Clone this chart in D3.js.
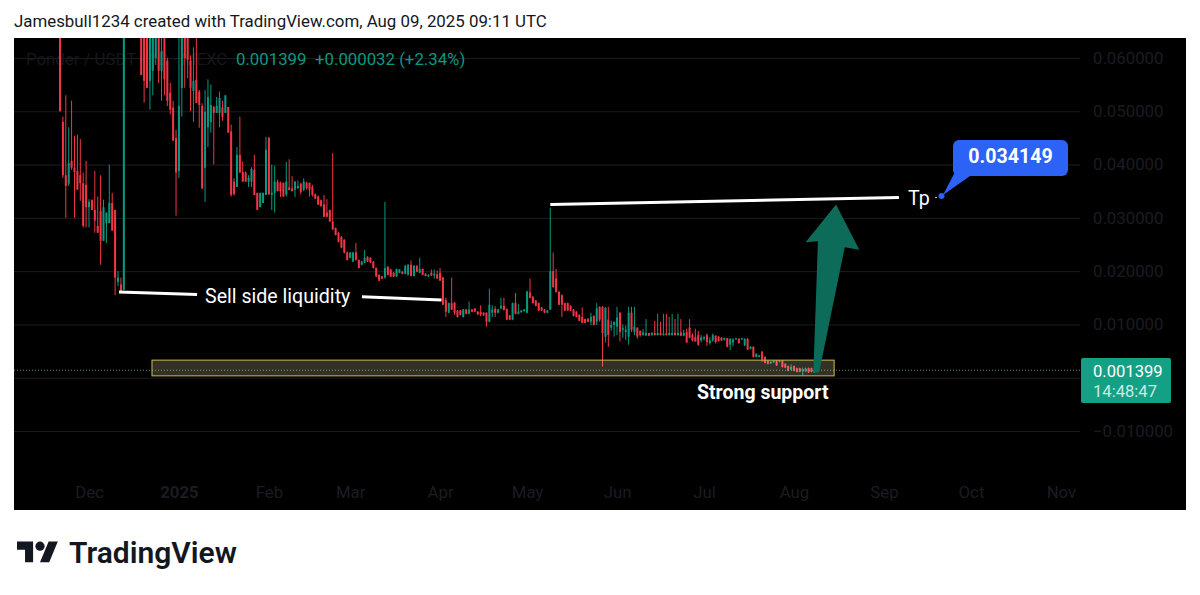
<!DOCTYPE html>
<html><head><meta charset="utf-8">
<script src="https://cdnjs.cloudflare.com/ajax/libs/d3/7.8.5/d3.min.js"></script>
<style>html,body{margin:0;padding:0;background:#fff}svg{display:block}text{font-family:Roboto,sans-serif}</style>
</head><body><svg id="c" width="1200" height="595"></svg>
<script>
// Daily candles in thousandths of USDT, first candle 2024-11-21
const firstDay = "2024-11-21";
const opens = [80,48,38,36.4,40.7,39.4,38.8,38,36.5,36.2,
32,33.4,31.5,28.5,31.3,25.7,29,29,32.8,31.5,
18,17.5,16.5,75,80,78,84,76,72,70,
68,55.7,57.6,60,68,57.6,66,59.5,53.5,50.7,
45,38.8,54.4,66,66,59.5,53.8,55.9,53.7,51,
39.4,47,48,50.8,49.7,49.7,50.7,49.7,50.8,46.2,
36.8,35.8,41.8,38.6,38.5,36.8,36.8,39,34.7,32,
32.8,34.3,45,34.3,34.7,36.8,36.6,36.6,34.4,35.7,
35.5,35.3,35.6,36.4,35.3,36.6,36.6,35.8,34.4,34,
33.3,32.5,31,31.5,29.3,28.1,27.2,26.4,25.9,23.5,
22.5,21.8,23.5,22.1,21.2,21.6,22.7,22.5,21.8,20.6,
19.3,19,18.8,20.8,20.3,19.7,19,19.7,19.9,19.5,
19.3,21.2,19.1,21,19.7,20.4,19.5,19,19.7,19.2,
19.4,19.7,18.8,14.6,12.2,14,14.1,12.6,12.6,11.4,
12.8,12,12.8,13,12.4,12.3,12.2,12.2,10.5,12.2,
12.9,12.2,13,13.5,12.9,11.7,10.9,14,12,12.3,
12.5,12.2,16,15.2,14.5,14,13.2,12.8,12.2,12.8,
20,18.6,16.1,15.5,14,14,13.5,12.8,12.4,11.8,
11.4,11,11,10.5,11.6,10.5,13.3,13.3,7.7,10.9,
9.4,9.9,9.6,12.2,9,8.6,7.7,12.2,8.6,9.4,
8.8,8,7.9,8.4,8,8.4,8,8.4,8,8.3,
8,8,8.4,8,8.5,7.9,8.6,9.4,8,7.6,
8,7,7.3,8,6.5,7,7.9,7.7,7.5,7.1,
7.4,6.2,6.6,7.2,7.3,7.2,6.1,7.3,5.4,5.8,
3.9,3.9,4.9,3.9,3.2,2.7,2.9,3.2,3,3.2,
2.6,2.2,1.5,2.2,1.8,1.8,1.2,1.2,1.8,1.8,1,1.367];
const closes = [50,38,36,40.3,39.4,38.6,35.3,36.5,28.5,32,
33,31.5,29.5,27.2,25.7,32,31,32.8,27.6,18.8,
18.8,16,75,80,78,84,76,72,56.8,55.7,
54.4,66,68,70,57.6,61.3,56,52,50.3,44.5,
38.5,51,66,60,59.7,54.4,55.7,51.6,51.2,35.5,
49.9,52.7,51.2,49.7,51,52.5,49,53,46,34.3,
34.5,41.8,38.5,36.8,36.8,37.5,39.2,34.3,31.5,34.7,
34.7,42.8,34.4,34.7,36.8,35,35,34,36.8,35.2,
35,36.8,36,34.9,36.8,35.6,35.3,34.3,33.6,32.5,
32.2,30.2,30.2,29.3,27.8,26.8,25.5,24.4,23.5,22.1,
23.5,23.5,22.1,20.6,21.8,22.5,21.8,21.6,20.6,19,
18.2,18.6,20.6,19.3,19,19,20.4,20.3,19.5,21,
21.2,19.1,21,19.9,20.4,19.3,19.1,19.3,19.2,19.5,
18.6,18.2,13.7,12.4,14,12.8,12.2,11.4,11.8,12.8,
12,12.8,12.4,12.4,11.9,11.9,11.7,10.5,13.7,12.8,
12.2,12.8,13.5,12.7,10.9,10.9,14,12,12.4,12.6,
12.8,16.2,15,14,13.5,12.6,12.6,12.2,12.6,20,
17,16.1,13.7,13.7,12.6,12.6,12.6,11.6,11.4,10.7,
10.3,10.3,10.5,11.4,9.9,13,10.9,8.4,13.1,8,
9.9,10.5,11.3,8.6,9.3,9,12.2,9,9.6,7.7,
8,8.5,8.4,7.9,8.4,8,8.4,8,8.3,8,
8.4,8.4,8,8.4,7.9,8.4,6.6,7.5,7,6.8,
6.2,7.6,7.6,6.7,7,8,6.7,6.9,7,7.4,
5.8,7.3,7.2,7.4,6.5,7.4,7.3,5.3,5.8,3.9,
4.5,4.2,3.4,2.8,2.6,3,3.2,2.3,3.2,2,
1.9,1.3,2,1.3,1.1,1.1,1.6,1.7,1,1.1,1.367,1.399];
const highs = [90,49,53,47,52,45.4,45.6,44.8,38.5,40.7,
33.5,33.4,38.8,34,38,33.4,31,40,34.7,31.5,
20,18.8,85,95,92,96,90,84,78,74,
70,70,72,74,72,66,68,60,55.3,52,
46.5,70,72,70,70,60.5,62,66,54,51.5,
54,56,55,51,52.7,53.7,52,53,50.8,47.5,
37.4,43.3,49,40.6,38.7,38,39.5,41.8,34.7,34.7,
34.7,45.2,45.2,40,39.8,37.2,36.8,36.6,40.5,41,
37.8,36.9,37,36.6,37.4,36.8,36.6,36.2,34.6,34.2,
33.4,34.3,33.5,31.5,42.2,28.2,27.3,26.6,26,23.7,
23.6,23.6,25.3,22.2,21.9,24,22.8,22.6,21.9,20.7,
19.4,19.1,33,21,20.4,19.8,20.5,20.4,20,21.2,
21.3,22,21.1,21.1,22.5,20.5,19.6,19.4,20.3,20.3,
20.1,20.6,18.9,15,14.1,18.8,14.2,12.7,12.7,12.9,
12.9,14.3,12.9,13.1,12.5,13.6,12.3,12.3,16.7,13.6,
13.4,12.9,15,15,13,11.8,14.1,15.9,13.8,12.7,
12.9,16.3,18.6,15.3,14.6,14.1,13.3,12.9,12.7,31.9,
23.5,20.4,16.3,15.6,14.1,14.1,13.6,12.9,12.5,11.9,
13.2,11.1,11.2,12.2,11.7,14,13.4,13.4,13.3,13.3,
10.7,10.5,13.3,12.3,10,9.8,13.3,13.3,13.3,9.4,
8.8,9.1,11,8.4,8.6,10.7,12,10.5,12,12,
11.4,12,11,12,11,9,9.2,11,8.3,9.2,
8.8,8,7.9,8.3,7.6,8.3,7.9,7.8,7.6,7.5,
7.5,7.4,7.4,7.5,7.4,7.5,7.4,7.4,5.9,5.9,
4.6,4.3,5,4,3.3,3.1,3.3,3.3,3.3,3.3,
2.7,2.3,2.5,2.3,1.9,1.9,1.9,1.9,1.9,1.9,1.5,1.6];
const lows = [50,37.5,30,36,39,30,35.3,33.2,28.2,28.2,
28.2,31.5,27.2,27.2,21.2,25.7,25.3,29,27.6,15.5,
17.2,16,16.5,70,72,74,72,66,56.8,51.6,
54.4,50.3,53,58.7,55.3,52,53,51,49.4,44.5,
30.4,37.5,49,54.4,56.2,50,48,51.6,46.9,35.5,
33,43.3,46,40,49.7,47,48.2,49.7,46,34,
34.2,35.8,38.5,36.8,36.8,35.8,35.8,34.3,31.5,32,
32.8,34.3,34.4,31.5,31,35,33.9,34,34,35.2,
35,33.9,35.4,34.4,35,35.3,34,34,33.5,32.4,
32.1,30.2,30.2,29.3,27.8,26.7,25.4,24.3,23.3,22,
22.4,21.7,22,20.5,21.1,21.5,21.7,21.5,20.5,18.9,
18.1,18.5,18.6,19.2,18.9,18.9,18.9,19.6,19.4,19.4,
19.2,19,19,19.8,19.6,19.2,19,18.9,19.1,18.6,
18.5,18.2,13.6,11.4,12.1,12.7,11.8,11.3,11.7,11.3,
11.9,11.9,12.3,12.3,11.8,11.5,11.6,9.6,10.4,11.4,
11.4,12.1,12.9,12.6,10.8,10.8,10.8,11.9,11.9,12.2,
12.4,12.1,14.9,13.9,13.4,12.5,12.5,12.1,12.1,12.7,
16.9,16,13.6,11.4,12.5,12.5,12.5,11.5,11.3,10.6,
10.2,10.2,10.4,9.9,9.8,9.9,10.5,2.1,6.6,5.8,
8.8,7.7,8,6.8,7.5,7.1,6.2,8.6,8,7.3,
7.7,7.9,7.9,7.8,7.9,7.9,7.9,7.9,7.9,7.9,
7.9,7.9,7.9,7.9,7.8,7.8,6.6,7.4,6.8,6.8,
6,6.6,7,6,6.2,6.8,6.4,6.8,6.9,7,
5.7,5.2,5.9,7.1,6.4,7.1,5.9,5.2,5.3,3.8,
3.8,3.8,3,2.7,2.5,2.6,2.8,2.2,2.9,1.9,
1.8,1.2,1.4,1.2,1,1,0.4,1.1,0.9,1,0.9,1.2];

const priceTicks = [-0.01,0,0.01,0.02,0.03,0.04,0.05,0.06];
const monthStarts = ["2024-12-01","2025-01-01","2025-02-01","2025-03-01","2025-04-01","2025-05-01","2025-06-01","2025-07-01","2025-08-01","2025-09-01","2025-10-01","2025-11-01"];
const lastPrice = 0.001399;
const targetPrice = "0.034149";

// Annotations: [date, price in thousandths]
const liquidityLeft = [["2024-12-11T08:00Z",16.1],["2025-01-07T06:00Z",15.6]];
const liquidityRight = [["2025-03-05T02:00Z",15.2],["2025-04-01T12:00Z",14.6]];
const targetLine = [["2025-05-09T00:00Z",32.5],["2025-09-06T04:00Z",33.8]];
const supportZone = {from:"2024-12-22T17:00Z",to:"2025-08-14T20:00Z",top:3.3,bottom:0.35};
const arrowShape = [["2025-08-07T16:00Z",1],["2025-08-09T16:00Z",1],["2025-08-18T12:00Z",24.5],["2025-08-23T12:00Z",24],["2025-08-15T12:00Z",32.5],["2025-08-05T00:00Z",25.4],["2025-08-09T06:00Z",25.6]];

const svg = d3.select("#c");
const L=14,T=38,R=1186,B=510,axisX=1080;
const x = d3.scaleUtc().domain([new Date("2024-12-01"),new Date("2025-08-01")]).range([89,794]);
const y = d3.scaleLinear().domain([-0.01,0.06]).range([431,58]);
const k = v=>y(v/1000);
const green="#089981",red="#F23645",dim="#1b1c22";

svg.append("rect").attr("x",L).attr("y",T).attr("width",R-L).attr("height",B-T).attr("fill","#000");
svg.append("defs").append("clipPath").attr("id","pane").append("rect").attr("x",L).attr("y",T).attr("width",axisX-L).attr("height",B-T);

svg.append("text").attr("x",14).attr("y",27).attr("font-size",16.85).attr("fill","#131722")
  .text("Jamesbull1234 created with TradingView.com, Aug 09, 2025 09:11 UTC");

// Price axis with its grid lines (the 0 label sits hidden under the price tag)
const yAxis = svg.append("g").attr("transform",`translate(${axisX},0)`)
  .call(d3.axisRight(y).tickValues(priceTicks).tickSize(-(axisX-L)).tickPadding(13)
    .tickFormat(v=>v===0?"":(v<0?"\u2212":"")+Math.abs(v).toFixed(6)));
yAxis.select(".domain").remove();
yAxis.selectAll("line").attr("stroke","#1c1c1f");
yAxis.selectAll("text").attr("fill",dim).attr("font-size",16.8).attr("font-family","Roboto");

// Time axis
const xAxis = svg.append("g").attr("transform","translate(0,486)")
  .call(d3.axisBottom(x).tickValues(monthStarts.map(d=>new Date(d))).tickSize(0).tickPadding(0)
    .tickFormat(d=>d.getUTCMonth()===0?String(d.getUTCFullYear()):d3.utcFormat("%b")(d)));
xAxis.select(".domain").remove();
xAxis.selectAll("text").attr("fill",dim).attr("font-size",16.8).attr("font-family","Roboto")
  .attr("font-weight",d=>d.getUTCMonth()===0?700:400);

// Legend
const legend = svg.append("g").attr("font-size",16.8);
legend.append("text").attr("x",26).attr("y",65).attr("fill","#15161c").text("Ponder / USDT · 1D · MEXC");
legend.append("text").attr("x",236).attr("y",65).attr("fill",green).text("0.001399");
legend.append("text").attr("x",315).attr("y",65).attr("fill",green).text("+0.000032 (+2.34%)");

// Candles
const start = new Date(firstDay);
const candles = opens.map((o,i)=>({date:d3.utcDay.offset(start,i),o,c:closes[i],h:highs[i],l:lows[i]}));
const pane = svg.append("g").attr("clip-path","url(#pane)");
const gs = pane.selectAll("g").data(candles).join("g")
  .attr("fill",d=>d.c>=d.o?green:red).attr("stroke",d=>d.c>=d.o?green:red);
gs.append("line").attr("x1",d=>x(d.date)).attr("x2",d=>x(d.date)).attr("y1",d=>k(d.h)).attr("y2",d=>k(d.l)).attr("stroke-width",1);
gs.append("rect").attr("stroke","none").attr("x",d=>x(d.date)-1).attr("width",2)
  .attr("y",d=>k(Math.max(d.o,d.c))).attr("height",d=>Math.max(1,Math.abs(k(d.o)-k(d.c))));

// Last price line
svg.append("line").attr("x1",L).attr("x2",axisX).attr("y1",y(lastPrice)).attr("y2",y(lastPrice))
  .attr("stroke","#4d8f80").attr("stroke-width",1).attr("stroke-dasharray","1 2");

// Support zone
const zx=d=>x(new Date(d));
svg.append("rect").attr("x",zx(supportZone.from)).attr("width",zx(supportZone.to)-zx(supportZone.from))
  .attr("y",k(supportZone.top)).attr("height",k(supportZone.bottom)-k(supportZone.top))
  .attr("fill","rgba(255,240,190,0.2)").attr("stroke","#cdbb55").attr("stroke-width",1);

// Arrow
svg.append("polygon").attr("fill","#0d6b5a").attr("points",arrowShape.map(p=>[zx(p[0]),k(p[1])].join(",")).join(" "));

// White lines
const line=d3.line().x(p=>zx(p[0])).y(p=>k(p[1]));
[liquidityLeft,liquidityRight,targetLine].forEach(s=>svg.append("path").attr("d",line(s)).attr("fill","none").attr("stroke","#fff").attr("stroke-width",3));

svg.append("text").attr("x",205).attr("y",303).attr("font-size",19.6).attr("fill","#fff").text("Sell side liquidity");
svg.append("text").attr("x",908).attr("y",205).attr("font-size",19.6).attr("fill","#fff").text("Tp");
svg.append("text").attr("x",697).attr("y",399).attr("font-size",19.5).attr("font-weight",700).attr("fill","#fff").text("Strong support");

// Target callout
const blue="#2d62f7";
svg.append("circle").attr("cx",936).attr("cy",197.5).attr("r",0.8).attr("fill","#fff");
svg.append("circle").attr("cx",941.5).attr("cy",196).attr("r",3).attr("fill",blue);
svg.append("path").attr("d","M943 195L955 172L970 176Z").attr("fill",blue);
svg.append("rect").attr("x",953).attr("y",140).attr("width",115).attr("height",36).attr("rx",6).attr("fill",blue);
svg.append("text").attr("x",1010.5).attr("y",163).attr("text-anchor","middle").attr("font-size",19.6).attr("font-weight",700).attr("fill","#fff").text(targetPrice);

// Last price tag
svg.append("rect").attr("x",1081).attr("y",358).attr("width",90).attr("height",45).attr("rx",2).attr("fill","#13a084");
svg.append("text").attr("x",1093).attr("y",377).attr("font-size",16.6).attr("fill","#fff").text(lastPrice.toFixed(6));
svg.append("text").attr("x",1093).attr("y",397).attr("font-size",16.6).attr("fill","#c9ece4").text("14:48:47");

// TradingView logo
const logo=svg.append("g").attr("transform","translate(17,537) scale(1.15)").attr("fill","#131722");
logo.append("path").attr("d","M14 22H7V11H0V4h14v18ZM28 22h-8l7.5-18h8L28 22Z");
logo.append("circle").attr("cx",20).attr("cy",8).attr("r",4);
svg.append("text").attr("x",69).attr("y",563).attr("font-family","Inter").attr("font-size",30).attr("font-weight",600).attr("fill","#131722").text("TradingView");
</script></body></html>
